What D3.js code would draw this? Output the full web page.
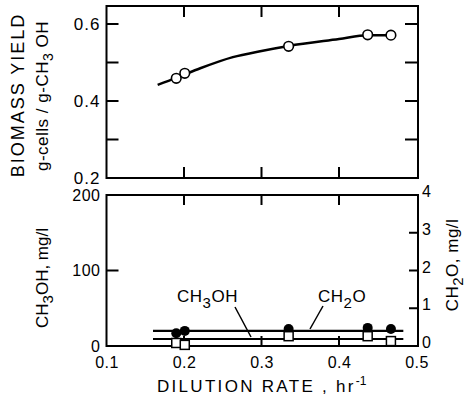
<!DOCTYPE html>
<html><head><meta charset="utf-8">
<script src="https://cdn.jsdelivr.net/npm/d3@7"></script>
<style>
body{margin:0;background:#fff;}
text{font-family:"Liberation Sans",Arial,sans-serif;fill:#000;}
</style></head>
<body><svg id="c" width="469" height="407"></svg>
<script>
// Top panel: biomass yield
const yieldD = [0.19, 0.201, 0.335, 0.437, 0.467];
const yieldV = [0.459, 0.472, 0.542, 0.572, 0.571];
const fitD = [0.166, 0.19, 0.201, 0.221, 0.263, 0.3, 0.335, 0.4, 0.437, 0.467];
const fitV = [0.442, 0.460, 0.469, 0.485, 0.514, 0.530, 0.543, 0.561, 0.571, 0.571];
// Bottom panel
const ch2oD = [0.19, 0.201, 0.335, 0.437, 0.467];
const ch2oV = [0.34, 0.40, 0.45, 0.48, 0.45];      // mg/l, right axis (filled circles)
const ch3ohD = [0.19, 0.201, 0.335, 0.437, 0.467];
const ch3ohV = [4, 1.5, 13, 13, 6.5];               // mg/l, left axis (open squares)
const ch2oLine = [[0.16, 0.40], [0.483, 0.40]];
const ch3ohLine = [[0.16, 9.3], [0.483, 9.3]];
const xTicks = [0.1, 0.2, 0.3, 0.4, 0.5];
const xInnerTicks = [0.2, 0.3, 0.4];
const yieldTicks = [0.2, 0.4, 0.6];
const yieldInnerTicks = [0.3, 0.4, 0.5, 0.6];
const leftTicks = [0, 100, 200];
const rightTicks = [0, 1, 2, 3, 4];

const svg = d3.select("#c");
const X0 = 106.5, X1 = 418;
const x = d3.scaleLinear().domain([0.1, 0.5]).range([X0, 416.5]);
const yT = d3.scaleLinear().domain([0.2, 0.6]).range([178, 24]);
const yTtop = 6;
const yL = d3.scaleLinear().domain([0, 200]).range([346, 195]);
const yR = d3.scaleLinear().domain([0, 4]).range([346, 195]);

function styleAxis(g, fs, ls) {
  g.select(".domain").remove();
  g.selectAll(".tick line").remove();
  g.selectAll(".tick text").attr("font-family", "Liberation Sans, Arial, sans-serif")
    .attr("font-size", fs).attr("letter-spacing", ls).attr("fill", "#000");
}
function frame(top, bottom) {
  svg.append("rect").attr("x", X0).attr("y", top).attr("width", X1 - X0).attr("height", bottom - top)
    .attr("fill", "none").attr("stroke", "#000").attr("stroke-width", 2);
}
// inward tick marks built from the scales (drawn as thin filled bars)
function ticksV(vals, y0, len) {
  vals.forEach(v => svg.append("rect").attr("x", x(v) - 1).attr("y", Math.min(y0, y0 + len))
    .attr("width", 2).attr("height", Math.abs(len)).attr("fill", "#000"));
}
function ticksH(vals, scale, x0, len) {
  vals.forEach(v => svg.append("rect").attr("x", Math.min(x0, x0 + len)).attr("y", scale(v) - 1)
    .attr("width", Math.abs(len)).attr("height", 2).attr("fill", "#000"));
}

// ---------- Top panel ----------
frame(yTtop, yT(0.2));
ticksV(xInnerTicks, yTtop, 11);
ticksV(xInnerTicks, yT(0.2), -11);
ticksH(yieldInnerTicks, yT, X0, 12);
ticksH(yieldInnerTicks, yT, X1, -13);
svg.append("g").attr("transform", `translate(${X0},0)`)
  .call(d3.axisLeft(yT).tickValues(yieldTicks).tickSize(0).tickPadding(6).tickFormat(d3.format(".1f")))
  .call(g => styleAxis(g, 17, 1));

const line = d3.line().x(d => x(d[0])).y(d => yT(d[1])).curve(d3.curveMonotoneX);
svg.append("path").datum(fitD.map((d, i) => [d, fitV[i]])).attr("d", line)
  .attr("fill", "none").attr("stroke", "#000").attr("stroke-width", 2.5);
svg.selectAll(".oc").data(yieldD).enter().append("circle")
  .attr("cx", d => x(d)).attr("cy", (d, i) => yT(yieldV[i])).attr("r", 4.8)
  .attr("fill", "#fff").attr("stroke", "#000").attr("stroke-width", 1.6);

svg.append("text").attr("transform", "translate(24,95) rotate(-90)").attr("text-anchor", "middle")
  .attr("font-size", 18).attr("letter-spacing", 2).text("BIOMASS YIELD");
const t2 = svg.append("text").attr("transform", "translate(48,96) rotate(-90)").attr("text-anchor", "middle")
  .attr("font-size", 17).attr("letter-spacing", 0.5);
t2.append("tspan").text("g-cells / g-CH");
t2.append("tspan").attr("dy", 5).attr("font-size", 14).text("3");
t2.append("tspan").attr("dy", -5).text(" OH");

// ---------- Bottom panel ----------
frame(yL(200), yL(0));
ticksV(xInnerTicks, yL(200), 10);
ticksV(xInnerTicks, yL(0), -10);
ticksH([100], yL, X0, 12);
ticksH([1, 2, 3], yR, X1, -9);
svg.append("g").attr("transform", `translate(0,${yL(0)})`)
  .call(d3.axisBottom(x).tickValues(xTicks).tickSize(0).tickPadding(11).tickFormat(d3.format(".1f")))
  .call(g => styleAxis(g, 16, 0.5));
svg.append("g").attr("transform", `translate(${X0},0)`)
  .call(d3.axisLeft(yL).tickValues(leftTicks).tickSize(0).tickPadding(6).tickFormat(d3.format("d")))
  .call(g => styleAxis(g, 16, 0.5));
svg.append("g").attr("transform", `translate(${X1},0)`)
  .call(d3.axisRight(yR).tickValues(rightTicks).tickSize(0).tickPadding(4).tickFormat(d3.format("d")))
  .call(g => styleAxis(g, 16, 0))
  .call(g => g.selectAll(".tick text").attr("dy", "0.1em"));

const hl1 = d3.line().x(d => x(d[0])).y(d => yR(d[1]));
const hl2 = d3.line().x(d => x(d[0])).y(d => yL(d[1]));
svg.append("path").attr("d", hl1(ch2oLine)).attr("stroke", "#000").attr("stroke-width", 2.2).attr("fill", "none");
svg.append("path").attr("d", hl2(ch3ohLine)).attr("stroke", "#000").attr("stroke-width", 2.2).attr("fill", "none");
svg.selectAll(".fc").data(ch2oD).enter().append("circle")
  .attr("cx", d => x(d)).attr("cy", (d, i) => yR(ch2oV[i])).attr("r", 5)
  .attr("fill", "#000");
svg.selectAll(".sq").data(ch3ohD).enter().append("rect")
  .attr("x", d => x(d) - 4.5).attr("y", (d, i) => yL(ch3ohV[i]) - 4.5).attr("width", 9).attr("height", 9)
  .attr("fill", "#fff").attr("stroke", "#000").attr("stroke-width", 1.5);

const l1 = svg.append("text").attr("x", 177).attr("y", 302).attr("font-size", 17).attr("letter-spacing", 0.5);
l1.append("tspan").text("CH");
l1.append("tspan").attr("dy", 6).attr("font-size", 15).text("3");
l1.append("tspan").attr("dy", -6).text("OH");
svg.append("path").attr("d", "M235,307L251,337").attr("stroke", "#000").attr("stroke-width", 1.5);
const l2 = svg.append("text").attr("x", 318).attr("y", 302).attr("font-size", 17).attr("letter-spacing", 0.5);
l2.append("tspan").text("CH");
l2.append("tspan").attr("dy", 6).attr("font-size", 15).text("2");
l2.append("tspan").attr("dy", -6).text("O");
svg.append("path").attr("d", "M323,306L310,329").attr("stroke", "#000").attr("stroke-width", 1.5);

const ll = svg.append("text").attr("transform", "translate(48,278) rotate(-90)").attr("text-anchor", "middle")
  .attr("font-size", 17);
ll.append("tspan").text("CH");
ll.append("tspan").attr("dy", 5).attr("font-size", 15).text("3");
ll.append("tspan").attr("dy", -5).text("OH, mg/l");
const rl = svg.append("text").attr("transform", "translate(458,265) rotate(-90)").attr("text-anchor", "middle")
  .attr("font-size", 17).attr("letter-spacing", 0.5);
rl.append("tspan").text("CH");
rl.append("tspan").attr("dy", 5).attr("font-size", 15).text("2");
rl.append("tspan").attr("dy", -5).text("O,  mg/l");
const xl = svg.append("text").attr("x", 157).attr("y", 392).attr("font-size", 17).attr("letter-spacing", 2.3);
xl.append("tspan").text("DILUTION RATE , hr");
xl.append("tspan").attr("dy", -7).attr("font-size", 12).attr("letter-spacing", 0).text("-1");
</script></body></html>
